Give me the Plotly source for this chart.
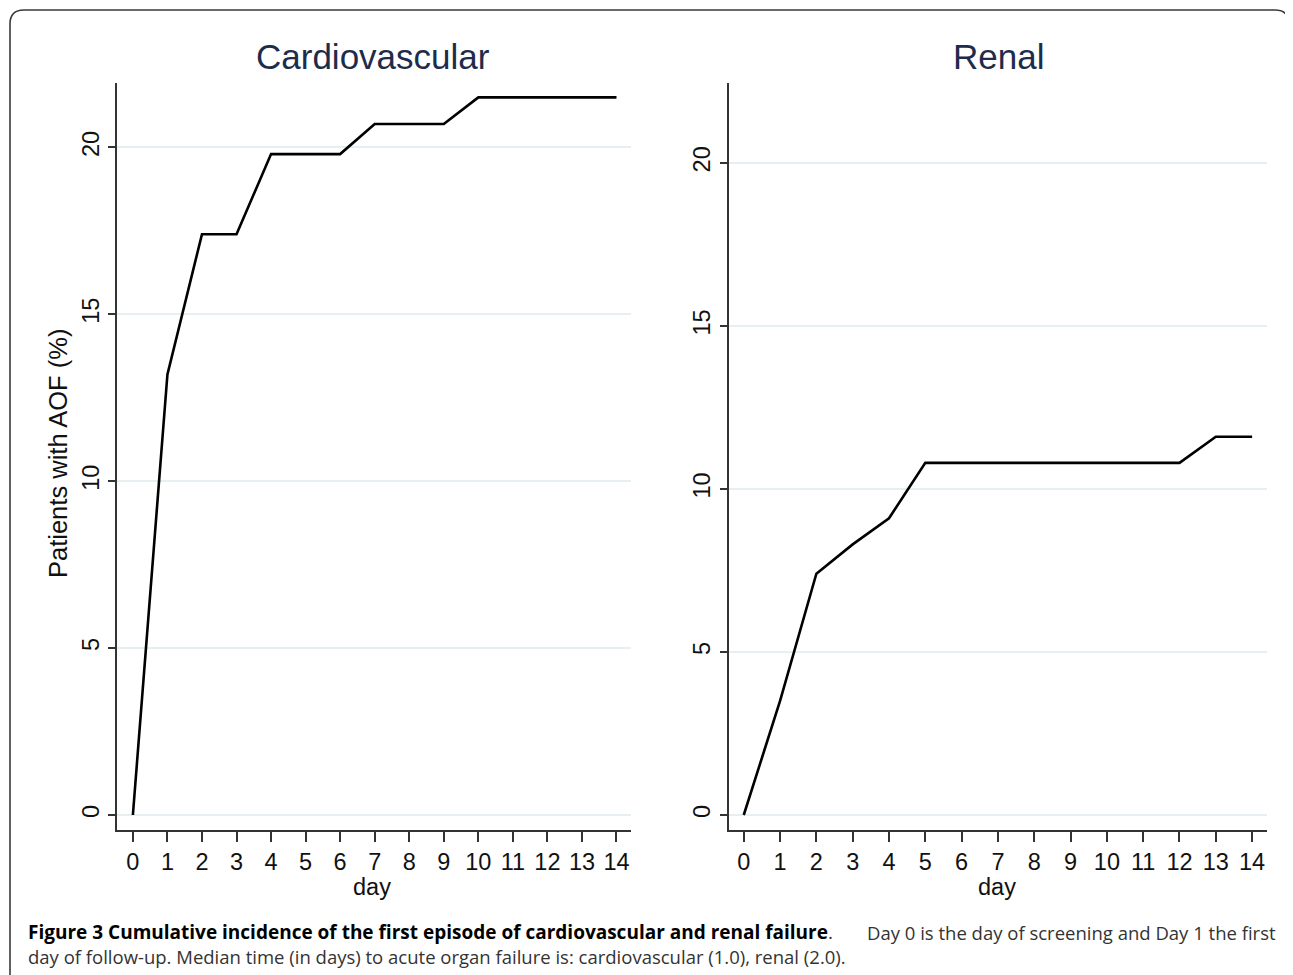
import plotly.graph_objects as go

# ---- data ----
days = list(range(15))
cardio = [0, 13.2, 17.4, 17.4, 19.8, 19.8, 19.8, 20.7, 20.7, 20.7, 21.5, 21.5, 21.5, 21.5, 21.5]
renal = [0, 3.5, 7.4, 8.3, 9.1, 10.8, 10.8, 10.8, 10.8, 10.8, 10.8, 10.8, 10.8, 11.6, 11.6]
yticks = [0, 5, 10, 15, 20]
panel_titles = ["Cardiovascular", "Renal"]
y_title = "Patients with AOF (%)"
x_title = "day"
caption_bold = "Figure 3 Cumulative incidence of the first episode of cardiovascular and renal failure"
caption_rest1 = "Day 0 is the day of screening and Day 1 the first"
caption_line2 = "day of follow-up. Median time (in days) to acute organ failure is: cardiovascular (1.0), renal (2.0)."

# page has an 8px body margin: figure origin sits at page (8, 8)
OFF = 8
W, H = 1285, 967
def px(x):
    return (x - OFF) / W
def py(y):
    return 1 - (y - OFF) / H

fig = go.Figure()
fig.add_trace(go.Scatter(x=days, y=cardio, mode="lines", line=dict(color="black", width=2.6),
                         xaxis="x", yaxis="y", showlegend=False))
fig.add_trace(go.Scatter(x=days, y=renal, mode="lines", line=dict(color="black", width=2.6),
                         xaxis="x2", yaxis="y2", showlegend=False))

tickfont = dict(family="Liberation Sans, Arial", size=23.5, color="#111111")
axis_common = dict(showline=True, linecolor="#333333", linewidth=1.5, ticks="outside",
                   tickcolor="#333333", tickwidth=1.5, tickfont=tickfont, zeroline=False)

xcommon = dict(axis_common, tickvals=days, ticktext=[str(d) for d in days], ticklen=10,
               showgrid=False)
ycommon = dict(axis_common, tickvals=yticks, ticklen=7, tickangle=-90, showgrid=True,
               gridcolor="#e6eff1", gridwidth=1.8)

fig.update_layout(
    width=W, height=H, margin=dict(l=0, r=0, t=0, b=0),
    paper_bgcolor="white", plot_bgcolor="white",
    xaxis=dict(xcommon, domain=[px(117), px(631)], range=[-0.46, 14.42], anchor="y"),
    yaxis=dict(ycommon, domain=[py(830), py(83)], range=[-0.45, 21.93], anchor="x"),
    xaxis2=dict(xcommon, domain=[px(728.5), px(1267)], range=[-0.42, 14.41], anchor="y2"),
    yaxis2=dict(ycommon, domain=[py(830), py(83)], range=[-0.46, 22.45], anchor="x2"),
)

title_font = dict(family="Liberation Sans, Arial", size=35, color="#1e2c4c")
label_font = dict(family="Liberation Sans, Arial", size=23.5, color="#111111")
ytitle_font = dict(family="Liberation Sans, Arial", size=25.5, color="#111111")
ann = [
    dict(text=panel_titles[0], x=px(373), y=py(57), font=title_font),
    dict(text=panel_titles[1], x=px(998), y=py(57), font=title_font),
    dict(text=y_title, x=px(58), y=py(454), textangle=-90, font=ytitle_font),
    dict(text=x_title, x=px(372), y=py(887), font=label_font),
    dict(text=x_title, x=px(997), y=py(887), font=label_font),
]
for a in ann:
    a.update(xref="paper", yref="paper", showarrow=False, xanchor="center", yanchor="middle")

cap_font_b = dict(family="Open Sans", size=19, color="#000000")
cap_font = dict(family="Open Sans", size=18.5, color="#333333")
ann += [
    dict(text="<b>" + caption_bold + "</b><span style='font-weight:normal;color:#333333'>.</span>",
         x=px(26), y=py(932), xanchor="left", yanchor="middle",
         font=cap_font_b, xref="paper", yref="paper", showarrow=False),
    dict(text=caption_rest1, x=px(1278), y=py(932), xanchor="right", yanchor="middle",
         font=cap_font, xref="paper", yref="paper", showarrow=False),
    dict(text=caption_line2, x=px(26), y=py(956), xanchor="left", yanchor="middle",
         font=cap_font, xref="paper", yref="paper", showarrow=False),
]
fig.update_layout(annotations=ann)

# rounded frame around the figure
r = 14
path = (f"M {px(10)},{py(990)} L {px(10)},{py(10 + r)} Q {px(10)},{py(10)} {px(10 + r)},{py(10)} "
        f"L {px(1289 - r)},{py(10)} Q {px(1289)},{py(10)} {px(1289)},{py(10 + r)} L {px(1289)},{py(990)}")
fig.add_shape(type="path", path=path, xref="paper", yref="paper",
              line=dict(color="#3a3a3a", width=1.6))

fig.write_html("out.html")
